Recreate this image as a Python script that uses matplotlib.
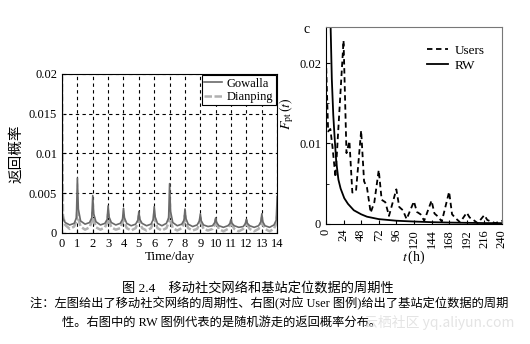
import matplotlib
matplotlib.use('Agg')
import matplotlib.pyplot as plt

plt.rcParams['font.family'] = ['Liberation Serif', 'Noto Sans CJK SC']
plt.rcParams['mathtext.fontset'] = 'stix'

# left panel: return probability, sampled at these hours of every day
day_offsets = [0, 1.5, 5, 12, 19, 22.5]
n_days = 14
gowalla = [
    0.0028, 0.0018, 0.0013, 0.0010, 0.0012, 0.0019,
    0.0069, 0.0030, 0.0015, 0.0011, 0.0013, 0.0019,
    0.0047, 0.0024, 0.0014, 0.0010, 0.0012, 0.0017,
    0.0034, 0.0020, 0.0013, 0.0010, 0.0012, 0.0017,
    0.0031, 0.0019, 0.0012, 0.0009, 0.0011, 0.0016,
    0.0027, 0.0017, 0.0012, 0.0009, 0.0011, 0.0017,
    0.0033, 0.0020, 0.0012, 0.0009, 0.0012, 0.0019,
    0.0062, 0.0027, 0.0013, 0.0009, 0.0011, 0.0016,
    0.0030, 0.0018, 0.0011, 0.0008, 0.0010, 0.0015,
    0.0024, 0.0015, 0.0010, 0.0008, 0.0009, 0.0013,
    0.0019, 0.0013, 0.0009, 0.0007, 0.0009, 0.0012,
    0.0017, 0.0012, 0.0009, 0.0007, 0.0008, 0.0012,
    0.0017, 0.0012, 0.0009, 0.0007, 0.0009, 0.0014,
    0.0024, 0.0014, 0.0009, 0.0007, 0.0010, 0.0016,
    0.0046,
]
dianping = [
    0.0200, 0.0022, 0.0010, 0.0005, 0.0008, 0.0015,
    0.0030, 0.0018, 0.0008, 0.0004, 0.0007, 0.0014,
    0.0026, 0.0016, 0.0007, 0.0004, 0.0007, 0.0013,
    0.0024, 0.0015, 0.0007, 0.0004, 0.0006, 0.0013,
    0.0022, 0.0014, 0.0006, 0.0003, 0.0006, 0.0013,
    0.0023, 0.0014, 0.0006, 0.0003, 0.0006, 0.0013,
    0.0025, 0.0015, 0.0006, 0.0003, 0.0006, 0.0013,
    0.0027, 0.0015, 0.0006, 0.0003, 0.0006, 0.0012,
    0.0022, 0.0013, 0.0006, 0.0003, 0.0005, 0.0011,
    0.0019, 0.0012, 0.0005, 0.0003, 0.0005, 0.0010,
    0.0017, 0.0011, 0.0005, 0.0002, 0.0005, 0.0010,
    0.0016, 0.0010, 0.0005, 0.0002, 0.0005, 0.0010,
    0.0016, 0.0010, 0.0005, 0.0002, 0.0005, 0.0011,
    0.0019, 0.0011, 0.0005, 0.0002, 0.0005, 0.0012,
    0.0022,
]
left_yticks = [0, 0.005, 0.01, 0.015, 0.02]
left_ylabels = ['0', '0.005', '0.01', '0.015', '0.02']

# right panel: users vs random walk
users_t = [0, 3, 6, 9, 13, 24, 28, 32, 36, 41, 48, 52, 56, 61, 66, 72, 76, 81,
           86, 96, 100, 105, 110, 120, 124, 129, 134, 144, 148, 153, 158, 168,
           172, 177, 183, 192, 196, 201, 207, 216, 220, 225, 231, 240]
users_v = [0.0205, 0.0115, 0.0118, 0.0095, 0.0058, 0.0228, 0.0088, 0.0103,
           0.0039, 0.0041, 0.0116, 0.0053, 0.0045, 0.0014, 0.0027, 0.0067,
           0.0030, 0.0027, 0.0010, 0.0043, 0.0021, 0.0017, 0.0006, 0.0028,
           0.0015, 0.0012, 0.0004, 0.0029, 0.0013, 0.0009, 0.0003, 0.0040,
           0.0012, 0.0007, 0.0002, 0.0014, 0.0008, 0.0005, 0.0001, 0.0011,
           0.0005, 0.0003, 0.0001, 0.0004]
rw_t = [4, 6, 8, 10, 12, 14, 17, 20, 25, 30, 38, 48, 56, 72, 96, 120, 144,
        168, 192, 216, 240]
rw_v = [0.040, 0.026, 0.018, 0.0135, 0.0105, 0.0078, 0.0055, 0.0044, 0.0032,
        0.0025, 0.0017, 0.0012, 0.0009, 0.0006, 0.0004, 0.0003, 0.00022,
        0.00017, 0.00014, 0.00011, 0.0001]

days_t = [d + h / 24 for d in range(n_days) for h in day_offsets] + [n_days]

fig = plt.figure(figsize=(5.30, 3.44), dpi=100)

# ---- left panel
ax1 = fig.add_axes([0.117, 0.323, 0.406, 0.462])
ax1.plot(days_t, dianping, color='#b0b0b0', lw=1.8, ls=(0, (3, 1)), label='Dianping')
ax1.plot(days_t, gowalla, color='#6a6a6a', lw=1.2, label='Gowalla')
ax1.set_xlim(0, 14)
ax1.set_ylim(0, 0.02)
ax1.set_xticks(range(0, 15))
ax1.set_yticks(left_yticks)
ax1.set_yticklabels(left_ylabels)
ax1.grid(True, color='black', ls=(0, (3, 3)), lw=0.8)
ax1.tick_params(direction='in', labelsize=9, length=3)
ax1.set_xlabel('Time/day', fontsize=9.5, labelpad=1)
ax1.set_ylabel('返回概率', fontsize=10.5, labelpad=4)
h, l = ax1.get_legend_handles_labels()
leg = ax1.legend(h[::-1], l[::-1], loc='upper right', fontsize=9,
                 fancybox=False, edgecolor='black', framealpha=1,
                 borderaxespad=0.1, borderpad=0.2, handlelength=1.4,
                 handletextpad=0.4, labelspacing=0.1)
leg.get_frame().set_linewidth(0.8)
for s in ax1.spines.values():
    s.set_linewidth(0.8)

# ---- right panel
ax2 = fig.add_axes([0.615, 0.349, 0.332, 0.573])
ax2.plot(users_t, users_v, color='black', lw=1.3, ls=(0, (3, 2)), label='Users')
ax2.plot(rw_t, rw_v, color='black', lw=1.3, label='RW')
ax2.set_xlim(0, 240)
ax2.set_ylim(0, 0.0245)
ax2.set_xticks(range(0, 241, 24))
ax2.set_yticks([0, 0.01, 0.02])
ax2.set_yticklabels(['0', '0.01', '0.02'])
ax2.set_yticks([0.005, 0.015], minor=True)
ax2.tick_params(axis='x', labelrotation=90)
ax2.tick_params(direction='in', labelsize=9, length=3)
ax2.tick_params(which='minor', direction='in', length=2)
ax2.set_xlabel(r'$t\,$(h)', fontsize=10, labelpad=1)
ax2.set_ylabel(r'$F_{\rm pt}\,(t)$', fontsize=10, labelpad=1)
ax2.yaxis.set_label_coords(-0.17, 0.56)
ax2.legend(loc='upper right', fontsize=9.5, frameon=False,
           handlelength=1.6, handletextpad=0.5, labelspacing=0.2,
           bbox_to_anchor=(0.97, 0.97))
for s in ax2.spines.values():
    s.set_linewidth(0.8)
for s in ['top', 'right']:
    ax2.spines[s].set_color('#777777')
fig.text(0.572, 0.905, 'c', fontsize=10)

# ---- caption
fig.text(0.487, 0.163, '图 2.4　移动社交网络和基站定位数据的周期性',
         ha='center', va='center', fontsize=9.5)
fig.text(0.057, 0.118,
         '注：左图给出了移动社交网络的周期性、右图(对应 User 图例)给出了基站定位数据的周期',
         ha='left', va='center', fontsize=8.8)
fig.text(0.117, 0.063, '性。右图中的 RW 图例代表的是随机游走的返回概率分布。',
         ha='left', va='center', fontsize=8.8)
fig.text(0.97, 0.063, '云栖社区 yq.aliyun.com', ha='right', va='center',
         fontsize=10, color='#e4e4e4', family=['Noto Sans CJK SC'])

fig.savefig('out.png', dpi=100)
